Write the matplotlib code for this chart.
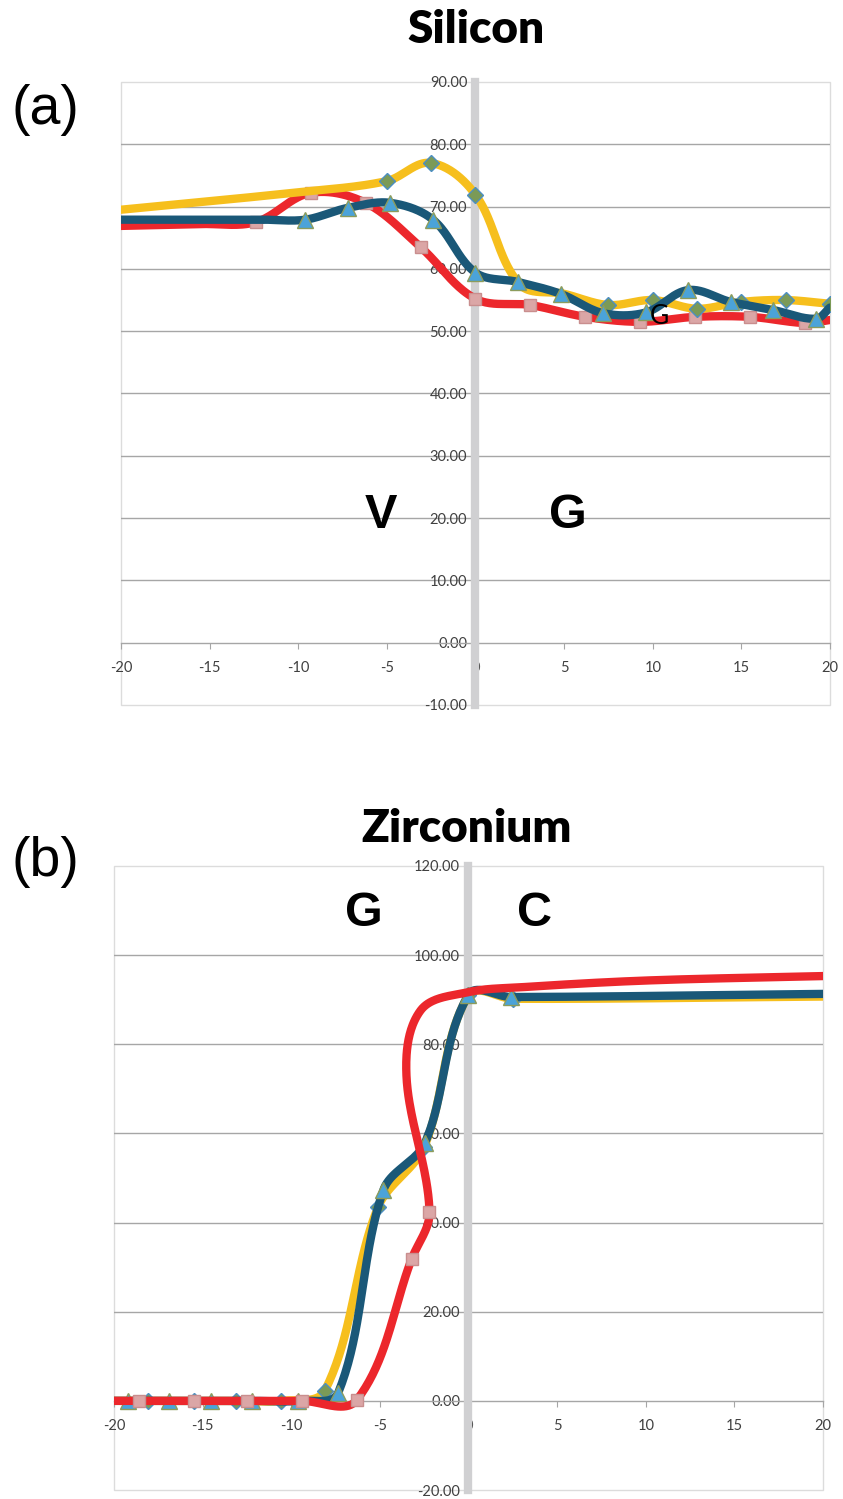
import numpy as np
import matplotlib
matplotlib.use("Agg")
import matplotlib.pyplot as plt
from matplotlib.patches import Rectangle

plt.rcParams['axes.unicode_minus'] = False

# ---- data ----
# (a) Silicon
si_yellow_x = [-20, -10, -5, -2.5, 0, 2.5, 5, 7.5, 10, 12.5, 15, 17.5, 20]
si_yellow_y = [69.5, 72.3, 74.1, 77.0, 71.9, 57.5, 56.0, 54.2, 55.0, 53.6, 54.7, 55.0, 54.4]
si_yellow_marks = [2, 3, 4, 7, 8, 9, 10, 11, 12]

si_red_x = [-20, -15.5, -12.4, -9.3, -6.2, -3.1, 0, 3.1, 6.2, 9.3, 12.4, 15.5, 18.6, 20]
si_red_y = [66.9, 67.2, 67.5, 72.2, 70.6, 63.5, 55.2, 54.2, 52.3, 51.5, 52.3, 52.3, 51.3, 51.8]
si_red_marks = [2, 3, 4, 5, 6, 7, 8, 9, 10, 11, 12]

si_blue_x = [-20, -12, -9.6, -7.2, -4.8, -2.4, 0, 2.4, 4.8, 7.2, 9.6, 12.0, 14.4, 16.8, 19.2, 20]
si_blue_y = [67.9, 67.9, 67.9, 69.8, 70.6, 67.9, 59.4, 57.9, 56.0, 52.9, 53.0, 56.6, 54.7, 53.4, 52.0, 53.8]
si_blue_marks = [2, 3, 4, 5, 6, 7, 8, 9, 10, 11, 12, 13, 14]

# (b) Zirconium
zr_yellow_x = [-20, -18.1, -15.5, -13.1, -10.6, -8.1, -5.1, -2.5, 0, 2.5, 20]
zr_yellow_y = [0, 0, 0, 0, 0, 2.3, 43.5, 57.0, 91.0, 90.2, 90.7]
zr_yellow_marks = [1, 2, 3, 4, 5, 6, 7, 8, 9]

zr_red_x = [-20, -18.6, -15.5, -12.5, -9.4, -6.3, -3.2, -2.2, -3.5, -2.7, 0, 3, 10, 20]
zr_red_y = [0, 0, 0, 0, 0, 0.2, 31.9, 42.4, 73.0, 87.6, 91.7, 92.8, 94.3, 95.3]
zr_red_marks = [1, 2, 3, 4, 5, 6, 7]

zr_blue_x = [-20, -19.2, -16.9, -14.5, -12.2, -9.6, -7.35, -4.8, -2.45, 0, 2.4, 20]
zr_blue_y = [0, 0, 0, 0, 0, 0, 1.8, 47.3, 57.9, 91.1, 90.6, 91.3]
zr_blue_marks = [1, 2, 3, 4, 5, 6, 7, 8, 9, 10]

x_ticks = [-20, -15, -10, -5, 0, 5, 10, 15, 20]
si_y_ticks = [-10, 0, 10, 20, 30, 40, 50, 60, 70, 80, 90]
zr_y_ticks = [-20, 0, 20, 40, 60, 80, 100, 120]

YELLOW = '#f6bf1d'
RED = '#ec272c'
BLUE = '#1a5878'


def smooth(xs, ys, sx, sy, n=40):
    # Bezier through the points; handle along the neighbour chord,
    # length a third of the segment (worked out in pixel space)
    p = np.column_stack([np.asarray(xs, float) * sx, np.asarray(ys, float) * sy])
    m = len(p)
    d = np.zeros_like(p)
    for i in range(m):
        a = p[max(i - 1, 0)]
        b = p[min(i + 1, m - 1)]
        v = b - a
        d[i] = v / (np.hypot(*v) or 1.0)
    t = np.linspace(0, 1, n, endpoint=False)[:, None]
    out = []
    for i in range(m - 1):
        p1, p2 = p[i], p[i + 1]
        L = np.hypot(*(p2 - p1)) / 3.0
        c1 = p1 + d[i] * L
        c2 = p2 - d[i + 1] * L
        seg = ((1 - t) ** 3) * p1 + 3 * ((1 - t) ** 2) * t * c1 + 3 * (1 - t) * t ** 2 * c2 + t ** 3 * p2
        out.append(seg)
    out.append(p[-1:])
    s = np.vstack(out)
    return s[:, 0] / sx, s[:, 1] / sy


def draw_series(ax, xs, ys, marks, color, marker, z, sy):
    cx, cy = smooth(xs, ys, 17.725, sy)
    ax.plot(cx, cy, color=color, lw=6, solid_capstyle='round', zorder=z)
    mx = [xs[i] for i in marks]
    my = [ys[i] for i in marks]
    if marker == 'D':
        ax.plot(mx, my, ls='none', marker='D', ms=8, mfc='#7b9a57', mec='#4d8fc2', mew=1.0, zorder=z + 0.1)
    elif marker == 's':
        ax.plot(mx, my, ls='none', marker='s', ms=9, mfc='#dba6a6', mec='#c98e8e', mew=1.0, zorder=z + 0.1)
    else:
        ax.plot(mx, my, ls='none', marker='^', ms=11, mfc='#4ba3d9', mec='#8c9c5c', mew=1.0, zorder=z + 0.1)


def style_axes(ax, yticks):
    ax.set_xlim(-20, 20)
    ax.set_ylim(yticks[0], yticks[-1])
    ax.spines['left'].set_position(('data', 0))
    ax.spines['left'].set_color('#d0d0d2')
    ax.spines['left'].set_linewidth(6)
    ax.spines['left'].set_zorder(2.6)
    ax.spines['bottom'].set_position(('data', 0))
    ax.spines['bottom'].set_color('#a6a6a6')
    ax.spines['bottom'].set_linewidth(1.0)
    ax.spines['right'].set_visible(False)
    ax.spines['top'].set_visible(False)
    ax.add_patch(Rectangle((0, 0), 1, 1, transform=ax.transAxes, fill=False,
                           ec='#dcdcdc', lw=1.0, zorder=0.5, clip_on=False))
    for v in yticks[1:-1]:
        if v != 0:
            ax.axhline(v, color='#a6a6a6', lw=1.0, zorder=1)
    ax.set_xticks(x_ticks)
    ax.set_yticks(yticks)
    ax.set_yticklabels([f'{v:.2f}' for v in yticks])
    ax.tick_params(axis='x', direction='out', length=4, width=0.8, color='#a6a6a6',
                   pad=9, labelsize=10.5, labelcolor='#404040')
    ax.tick_params(axis='y', direction='out', length=3, width=0.8, color='#a6a6a6',
                   pad=3, labelsize=10.5, labelcolor='#404040')
    for lab in ax.get_xticklabels() + ax.get_yticklabels():
        lab.set_family('Lato')


fig = plt.figure(figsize=(8.43, 14.99), dpi=100)

ax1 = fig.add_axes([0.1435, 0.5297, 0.8411, 0.4156])
style_axes(ax1, si_y_ticks)
draw_series(ax1, si_red_x, si_red_y, si_red_marks, RED, 's', 3, 6.233)
draw_series(ax1, si_yellow_x, si_yellow_y, si_yellow_marks, YELLOW, 'D', 3.5, 6.233)
draw_series(ax1, si_blue_x, si_blue_y, si_blue_marks, BLUE, '^', 4, 6.233)
ax1.text(-5.36, 20.4, 'V', fontsize=35, fontweight='bold', family='Liberation Sans',
         ha='center', va='center', zorder=6)
ax1.text(5.19, 20.4, 'G', fontsize=35, fontweight='bold', family='Liberation Sans',
         ha='center', va='center', zorder=6)
ax1.text(10.4, 52.4, 'G', fontsize=19, family='Lato', ha='center', va='center', zorder=6)

ax2 = fig.add_axes([0.1352, 0.0060, 0.8411, 0.4163])
style_axes(ax2, zr_y_ticks)
draw_series(ax2, zr_yellow_x, zr_yellow_y, zr_yellow_marks, YELLOW, 'D', 3, 4.458)
draw_series(ax2, zr_blue_x, zr_blue_y, zr_blue_marks, BLUE, '^', 3.5, 4.458)
draw_series(ax2, zr_red_x, zr_red_y, zr_red_marks, RED, 's', 4, 4.458)
ax2.text(-5.9, 109.4, 'G', fontsize=35, fontweight='bold', family='Liberation Sans',
         ha='center', va='center', zorder=6)
ax2.text(3.75, 109.4, 'C', fontsize=35, fontweight='bold', family='Liberation Sans',
         ha='center', va='center', zorder=6)

fig.text(0.5647, 0.980, 'Silicon', fontsize=33, fontweight='heavy', family='Lato',
         ha='center', va='center')
fig.text(0.554, 0.4476, 'Zirconium', fontsize=33, fontweight='heavy', family='Lato',
         ha='center', va='center')
fig.text(0.0534, 0.9266, '(a)', fontsize=40, family='Liberation Sans', ha='center', va='center')
fig.text(0.0534, 0.4249, '(b)', fontsize=40, family='Liberation Sans', ha='center', va='center')

fig.savefig('out.png', dpi=100)
